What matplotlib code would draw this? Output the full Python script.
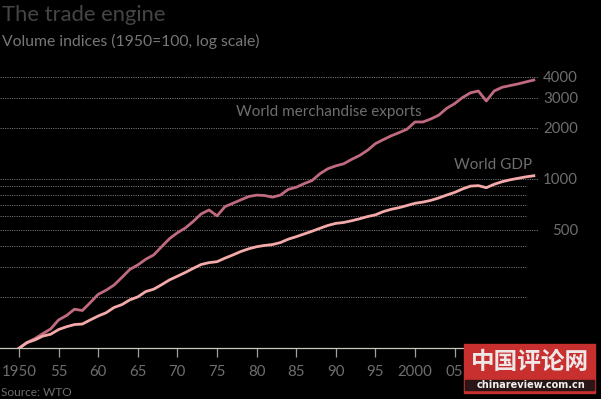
import matplotlib.pyplot as plt
from matplotlib.patches import Rectangle

# ----- data (volume indices, 1950=100) -----
years = list(range(1950, 2016))

exports = [100, 108, 114, 122, 130, 147, 156, 170, 167, 186,
           208, 220, 236, 262, 292, 310, 335, 355, 397, 443,
           480, 512, 560, 620, 654, 603, 684, 716, 750, 785,
           800, 796, 778, 800, 865, 890, 935, 975, 1070, 1145,
           1190, 1225, 1300, 1370, 1470, 1610, 1700, 1790, 1870, 1960,
           2160, 2160, 2250, 2370, 2600, 2770, 3010, 3210, 3290, 2870,
           3290, 3460, 3540, 3620, 3720, 3820]

gdp = [100, 108, 112, 118, 121, 129, 134, 138, 139, 147,
       155, 162, 174, 181, 193, 201, 216, 223, 237, 253,
       266, 280, 296, 312, 320, 324, 340, 355, 372, 386,
       397, 404, 409, 420, 440, 455, 472, 490, 510, 530,
       545, 552, 565, 580, 598, 612, 640, 660, 675, 695,
       716, 728, 745, 770, 801, 830, 870, 904, 910, 885,
       927, 960, 985, 1005, 1025, 1041]

# the 2010 and 2015 labels sit under the watermark in the original
x_ticks = list(range(1950, 2016, 5))
x_labels = ["1950", "55", "60", "65", "70", "75", "80", "85", "90", "95",
            "2000", "05", "", ""]
grid_labelled = [500, 1000, 2000, 3000, 4000]
grid_plain = [200, 300, 400, 600, 700, 800, 900]

FONT = "Lato"
BG = "#000000"
TXT = "#6e6e6e"

plt.rcParams["font.family"] = [FONT, "DejaVu Sans"]

fig = plt.figure(figsize=(6.01, 3.99), dpi=100, facecolor=BG)
ax = fig.add_axes([0, 0.1271, 0.8952, 0.6975], facecolor=BG)

ax.set_yscale("log")
ax.set_xlim(1947.6, 2015.53)
ax.set_ylim(100, 4375)

# gridlines
for v in grid_labelled:
    ax.axhline(v, color="#7a7a7a", lw=0.75, ls=(0, (1, 1.2)), zorder=1)
for v in grid_plain:
    ax.axhline(v, xmax=0.979, color="#7a7a7a", lw=0.75, ls=(0, (1, 1.2)), zorder=1)

ax.plot(years, exports, color="#c06a80", lw=2.0, zorder=3, solid_joinstyle="round")
ax.plot(years, gdp, color="#f4aaa9", lw=2.0, zorder=3, solid_joinstyle="round")

# axes styling
for s in ["top", "right", "left"]:
    ax.spines[s].set_visible(False)
ax.spines["bottom"].set_color("#c8c8c0")
ax.spines["bottom"].set_linewidth(0.9)

ax.set_xticks(x_ticks)
ax.set_xticklabels(x_labels)
ax.tick_params(axis="x", length=6.5, width=0.9, color="#a0a0a0",
               labelcolor=TXT, labelsize=10.8, pad=5.5)

ax.yaxis.tick_right()
ax.set_yticks(grid_labelled)
ax.set_yticklabels([str(v) for v in grid_labelled])
ax.yaxis.set_minor_locator(plt.NullLocator())
ax.tick_params(axis="y", length=0, labelcolor=TXT, labelsize=10.8, pad=28.8)
for t in ax.get_yticklabels():
    t.set_horizontalalignment("right")

# series labels
fig.text(236 / 601, 1 - 116 / 399, "World merchandise exports", color=TXT,
         fontsize=11.0, va="baseline", ha="left")
fig.text(532.5 / 601, 1 - 169 / 399, "World GDP", color=TXT,
         fontsize=11.0, va="baseline", ha="right")

# titles and source
fig.text(0.003, 1 - 20.7 / 399, "The trade engine", color="#454545",
         fontsize=15.8, va="baseline", ha="left")
fig.text(0.003, 1 - 45.7 / 399, "Volume indices (1950=100, log scale)",
         color="#777777", fontsize=11.3, va="baseline", ha="left")
fig.text(0.002, 1 - 396 / 399, "Source: WTO", color=TXT,
         fontsize=8.6, va="baseline", ha="left")

# watermark
fig.patches.append(Rectangle((464 / 601, 1 - 393 / 399), 131 / 601, 49 / 399,
                             transform=fig.transFigure, color="#c7302e", zorder=10))
fig.patches.append(Rectangle((465 / 601, 1 - 390 / 399), 129 / 601, 10 / 399,
                             transform=fig.transFigure, color="#2a1616", zorder=11))
fig.text(530 / 601, 1 - 362 / 399, "中国评论网", color="#f0e8e8",
         fontsize=17, fontweight="bold", ha="center", va="center",
         family=["Noto Sans CJK SC", "DejaVu Sans"], zorder=12)
fig.text(531 / 601, 1 - 385 / 399, "chinareview.com.cn", color="#f0f0f0",
         fontsize=7, fontweight="bold", ha="center", va="center",
         family=["DejaVu Sans"], zorder=12)

fig.savefig("out.png", dpi=100, facecolor=BG)
